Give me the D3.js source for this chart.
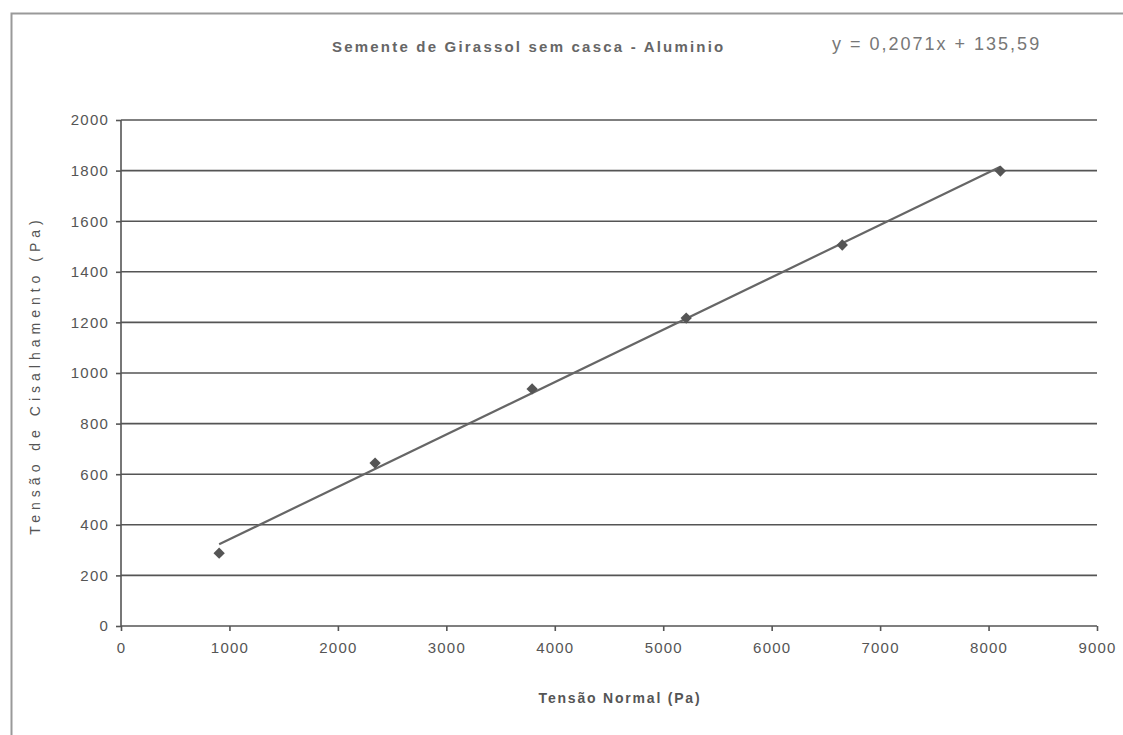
<!DOCTYPE html>
<meta charset="utf-8">
<style>
body { margin: 0; background: #fff; }
text { font-family: "Liberation Sans", Arial, sans-serif; fill: #555; }
.tick text { font-size: 15px; letter-spacing: 1.2px; }
.title { font-size: 15px; font-weight: bold; fill: #666; letter-spacing: 2.2px; }
.eq { font-size: 18px; fill: #777; letter-spacing: 2px; }
.axis-label { font-size: 14px; fill: #555; }
</style>
<svg width="1123" height="735"></svg>
<script src="https://d3js.org/d3.v7.min.js"></script>
<script>
// Tensão normal (Pa) x tensão de cisalhamento (Pa)
var tensaoNormal = [905, 2343, 3791, 5212, 6651, 8109];
var tensaoCisalhamento = [288, 644, 937, 1217, 1506, 1798];
var inclinacao = 0.2071, intercepto = 135.59;
var xTicks = [0, 1000, 2000, 3000, 4000, 5000, 6000, 7000, 8000, 9000];
var yTicks = [0, 200, 400, 600, 800, 1000, 1200, 1400, 1600, 1800, 2000];

var svg = d3.select("svg");

// moldura externa do gráfico
svg.append("rect")
    .attr("x", 11.5).attr("y", 13.5)
    .attr("width", 1130).attr("height", 740)
    .attr("fill", "none").attr("stroke", "#999").attr("stroke-width", 2);

var x = d3.scaleLinear().domain([0, 9000]).range([121, 1097]);
var y = d3.scaleLinear().domain([0, 2000]).range([626, 120]);

// linhas de grade horizontais
svg.append("g").selectAll("line")
  .data(yTicks.slice(1))
  .enter().append("line")
    .attr("x1", x(0)).attr("x2", x(9000))
    .attr("y1", function(d) { return y(d); })
    .attr("y2", function(d) { return y(d); })
    .attr("stroke", "#555").attr("stroke-width", 1.6);

var xAxis = svg.append("g")
    .attr("transform", "translate(0," + y(0) + ")")
    .call(d3.axisBottom(x).tickValues(xTicks).tickSize(5).tickPadding(11).tickFormat(d3.format("d")));

var yAxis = svg.append("g")
    .attr("transform", "translate(" + x(0) + ",0)")
    .call(d3.axisLeft(y).tickValues(yTicks).tickSize(5).tickPadding(7).tickFormat(d3.format("d")));

xAxis.selectAll("path, line").attr("stroke", "#555").attr("stroke-width", 1.6);
yAxis.selectAll("path, line").attr("stroke", "#555").attr("stroke-width", 1.6);
xAxis.select(".domain").attr("d", "M" + x(0) + ",0H" + x(9000));
yAxis.select(".domain").attr("d", "M0," + y(0) + "V" + y(2000));
svg.selectAll(".tick text").attr("fill", "#666");

// linha de tendência
var x0 = d3.min(tensaoNormal), x1 = d3.max(tensaoNormal);
svg.append("line")
    .attr("x1", x(x0)).attr("y1", y(inclinacao * x0 + intercepto))
    .attr("x2", x(x1)).attr("y2", y(inclinacao * x1 + intercepto))
    .attr("stroke", "#666").attr("stroke-width", 2.2);

// pontos (losangos)
svg.append("g").selectAll("path")
  .data(tensaoNormal)
  .enter().append("path")
    .attr("d", d3.symbol().type(d3.symbolSquare).size(64))
    .attr("transform", function(d, i) { return "translate(" + x(d) + "," + y(tensaoCisalhamento[i]) + ") rotate(45)"; })
    .attr("fill", "#555");

svg.append("text")
    .attr("class", "title")
    .attr("x", 332).attr("y", 52)
    .text("Semente de Girassol sem casca - Aluminio");

svg.append("text")
    .attr("class", "eq")
    .attr("x", 832).attr("y", 50)
    .text("y = 0,2071x + 135,59");

svg.append("text")
    .attr("class", "axis-label")
    .attr("x", 620).attr("y", 703)
    .attr("text-anchor", "middle")
    .style("font-weight", "bold")
    .style("letter-spacing", "1.8px")
    .text("Tensão Normal (Pa)");

svg.append("text")
    .attr("class", "axis-label")
    .attr("transform", "translate(40,375) rotate(-90)")
    .attr("text-anchor", "middle")
    .style("letter-spacing", "5px")
    .text("Tensão de Cisalhamento (Pa)");
</script>
